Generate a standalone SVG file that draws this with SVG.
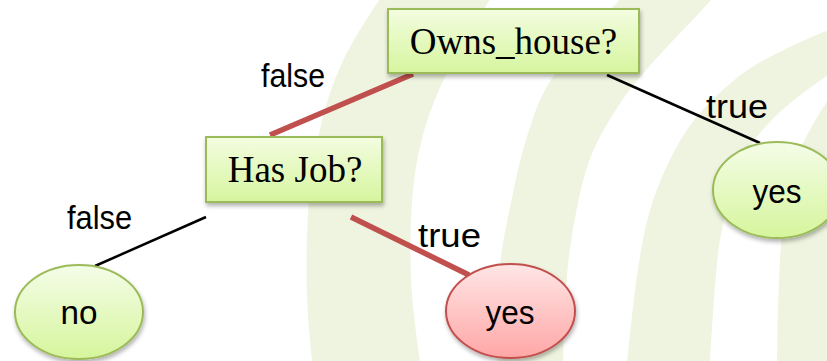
<svg xmlns="http://www.w3.org/2000/svg" width="827" height="361" viewBox="0 0 827 361">
<defs>
<style>
.band{fill:#eff4e0;stroke:none}
.box{fill:url(#gBox);stroke:#9bbb59;stroke-width:2;filter:url(#sh)}
.leaf{fill:url(#gLeaf);stroke:#9bbb59;stroke-width:2;filter:url(#sh)}
.leafR{fill:url(#gRed);stroke:#c0504d;stroke-width:2;filter:url(#sh)}
.ntext{font-family:"Liberation Serif","Times New Roman",serif;font-size:37px;fill:#000;text-anchor:middle}
.ltext{font-family:"Liberation Sans",Arial,sans-serif;font-size:34px;fill:#000}
.ctext{font-family:"Liberation Sans",Arial,sans-serif;font-size:34px;fill:#000;text-anchor:middle}
.red{stroke:#c0504d;stroke-width:5.5;fill:none}
.blk{stroke:#000;stroke-width:2.5;fill:none}
</style>
<linearGradient id="gBox" x1="0" y1="0" x2="0" y2="1">
<stop offset="0" stop-color="#f3fde0"/><stop offset="1" stop-color="#d6f59e"/>
</linearGradient>
<linearGradient id="gLeaf" x1="0" y1="0" x2="0" y2="1">
<stop offset="0" stop-color="#f4fde8"/><stop offset="1" stop-color="#d6f59c"/>
</linearGradient>
<linearGradient id="gRed" x1="0" y1="0" x2="0" y2="1">
<stop offset="0" stop-color="#ffe6e6"/><stop offset="1" stop-color="#ffa6a6"/>
</linearGradient>
<filter id="sh" x="-20%" y="-20%" width="140%" height="150%">
<feDropShadow dx="1" dy="3" stdDeviation="2" flood-color="#000" flood-opacity="0.3"/>
</filter>
</defs>
<rect x="0" y="0" width="827" height="361" fill="#ffffff"/>
<g id="background">
<path class="band" d="M380,-1 Q352,40 341,65 Q330,90 323.5,115 Q317,140 312.5,170 Q308,200 307,235 Q306,270 307,295 Q308,320 310,340.5 L312,362 L420,362 Q414,320 412,295 Q410,270 410.5,235 Q411,200 415.5,170 Q420,140 430,112.5 Q440,85 452.5,62.5 Q465,40 477.5,20 L490,-1 Z"/>
<path class="band" d="M620,-1 Q585,40 565,61.5 Q545,83 533.5,116.5 Q522,150 516,178.5 Q510,207 505,232 Q500,257 498.5,283.5 Q497,310 497,335.5 L497,362 L563,362 Q565,290 568.5,260 Q572,230 578.5,200 Q585,170 592.5,152.5 Q600,135 612.5,115 Q625,95 637.5,80 Q650,65 665,49 Q680,33 696,16.5 L712,-1 Z"/>
<path class="band" d="M828,30 Q763,57 738,77 Q713,97 696.5,117 Q680,137 665,170 Q650,203 643.5,236.5 Q637,270 632,315.5 L627,362 L710,362 Q715,270 720,240 Q725,210 735,180 Q745,150 762.5,130 Q780,110 803.5,92.5 L828,75 Z"/>
<path class="band" d="M828,100 Q795,150 788.5,185 Q782,220 780,260 Q778,300 777.5,330 L777,362 L828,362 Z"/>
</g>
<g id="connectors">
<line class="red" x1="413" y1="74" x2="270" y2="135"/>
<line class="blk" x1="607" y1="75" x2="760" y2="143"/>
<line class="blk" x1="206" y1="217" x2="95" y2="266"/>
<line class="red" x1="351" y1="217" x2="469" y2="275"/>
<text class="ltext" x="261" y="87" textLength="64" lengthAdjust="spacingAndGlyphs">false</text>
<text class="ltext" x="67" y="229" textLength="65" lengthAdjust="spacingAndGlyphs">false</text>
<text class="ltext" x="706" y="118" textLength="62" lengthAdjust="spacingAndGlyphs">true</text>
<text class="ltext" x="418" y="247" textLength="63" lengthAdjust="spacingAndGlyphs">true</text>
</g>
<g id="node-owns-house">
<rect class="box" x="388" y="9" width="251" height="64"/>
<text class="ntext" x="513.5" y="54">Owns_house?</text>
</g>
<g id="node-has-job">
<rect class="box" x="206" y="137" width="176" height="65"/>
<text class="ntext" x="295" y="182">Has Job?</text>
</g>
<g id="leaf-no">
<ellipse class="leaf" cx="79" cy="312" rx="64" ry="47"/>
<text class="ctext" x="79" y="324" textLength="37" lengthAdjust="spacingAndGlyphs">no</text>
</g>
<g id="leaf-yes-job">
<ellipse class="leafR" cx="510.5" cy="311" rx="64.5" ry="47"/>
<text class="ctext" x="510" y="324" textLength="49" lengthAdjust="spacingAndGlyphs">yes</text>
</g>
<g id="leaf-yes-house">
<ellipse class="leaf" cx="777" cy="190" rx="64" ry="48"/>
<text class="ctext" x="777" y="203" textLength="49" lengthAdjust="spacingAndGlyphs">yes</text>
</g>
</svg>
